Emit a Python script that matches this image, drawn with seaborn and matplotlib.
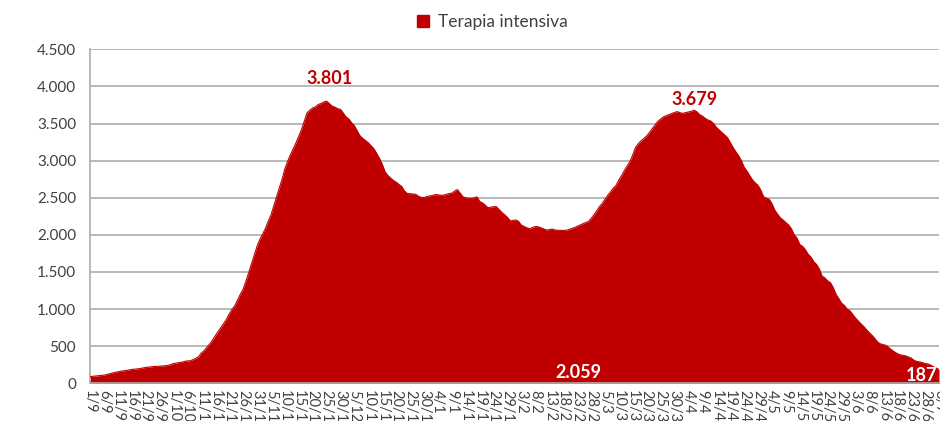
import numpy as np
import pandas as pd
import matplotlib
matplotlib.use("Agg")
import matplotlib.pyplot as plt
from matplotlib.patches import Patch
import seaborn as sns

start_date = "2020-09-01"
icu_values = [
    90, 94, 97, 101, 105, 110, 118, 128, 138, 147,
    155, 162, 168, 172, 179, 187, 190, 194, 199, 207,
    214, 218, 222, 226, 228, 230, 233, 236, 240, 252,
    266, 272, 279, 285, 295, 302, 303, 319, 337, 358,
    409, 440, 486, 529, 580, 640, 697, 750, 804, 862,
    934, 995, 1045, 1120, 1200, 1267, 1375, 1490, 1610, 1730,
    1845, 1939, 2010, 2085, 2180, 2267, 2390, 2510, 2630, 2750,
    2890, 2990, 3080, 3160, 3240, 3330, 3420, 3535, 3645, 3680,
    3711, 3725, 3756, 3770, 3790, 3801, 3768, 3735, 3720, 3700,
    3690, 3640, 3590, 3560, 3510, 3470, 3400, 3335, 3300, 3270,
    3240, 3200, 3160, 3095, 3030, 2950, 2850, 2800, 2765, 2734,
    2710, 2680, 2650, 2590, 2556, 2555, 2550, 2547, 2520, 2505,
    2503, 2515, 2525, 2530, 2542, 2540, 2533, 2535, 2545, 2556,
    2562, 2590, 2610, 2560, 2512, 2500, 2495, 2490, 2500, 2512,
    2450, 2431, 2400, 2365, 2372, 2380, 2379, 2340, 2300, 2270,
    2235, 2188, 2195, 2200, 2180, 2130, 2112, 2095, 2081, 2100,
    2112, 2110, 2095, 2081, 2065, 2070, 2078, 2066, 2062, 2060,
    2059, 2062, 2070, 2085, 2098, 2115, 2133, 2150, 2165, 2178,
    2220, 2267, 2320, 2380, 2422, 2480, 2533, 2580, 2630, 2667,
    2740, 2800, 2870, 2930, 2990, 3080, 3179, 3230, 3267, 3300,
    3334, 3380, 3432, 3480, 3530, 3560, 3590, 3605, 3620, 3636,
    3650, 3660, 3645, 3636, 3648, 3655, 3665, 3679, 3660, 3620,
    3600, 3570, 3547, 3534, 3500, 3450, 3414, 3380, 3345, 3311,
    3245, 3179, 3120, 3068, 3000, 2912, 2860, 2800, 2740, 2700,
    2667, 2600, 2512, 2495, 2481, 2420, 2334, 2280, 2230, 2200,
    2165, 2133, 2080, 2000, 1956, 1870, 1845, 1800, 1740, 1700,
    1640, 1601, 1540, 1445, 1420, 1380, 1356, 1290, 1200, 1140,
    1080, 1050, 1000, 978, 930, 880, 840, 800, 764, 720,
    680, 645, 600, 555, 530, 520, 511, 480, 450, 423,
    400, 385, 378, 370, 355, 340, 310, 295, 289, 280,
    266, 262, 245, 223, 205, 187,
]
series_name = "Terapia intensiva"
y_ticks = [0, 500, 1000, 1500, 2000, 2500, 3000, 3500, 4000, 4500]
y_tick_labels = ["0", "500", "1.000", "1.500", "2.000", "2.500",
                 "3.000", "3.500", "4.000", "4.500"]
label_step = 5

dates = pd.date_range(start_date, periods=len(icu_values), freq="D")
df = pd.DataFrame({"idx": np.arange(len(icu_values)), "value": icu_values})
date_labels = [f"{d.day}/{d.month}" for d in dates]

RED = "#c00000"
GRID = "#adadad"
TXT = "#404040"

sns.set_theme(style="white")
plt.rcParams["font.family"] = ["Lato", "DejaVu Sans"]

fig = plt.figure(figsize=(9.4, 4.21), dpi=100)
ax = fig.add_axes([90 / 940, 1 - 383.3 / 421, 849 / 940, 334 / 421])

ax.fill_between(df["idx"], 0, df["value"], color=RED, linewidth=0, zorder=2)
sns.lineplot(data=df, x="idx", y="value", ax=ax, color=RED, linewidth=0.8, zorder=3)

ax.set_xlim(0, len(icu_values) - 1)
ax.set_ylim(0, 4500)
ax.set_yticks(y_ticks)
ax.set_yticklabels(y_tick_labels, fontsize=11, color=TXT)
ax.yaxis.grid(True, color=GRID, linewidth=1.2, zorder=0)
ax.set_axisbelow(True)

tick_pos = list(range(0, len(icu_values), label_step))
ax.set_xticks(tick_pos)
ax.set_xticklabels([date_labels[i] for i in tick_pos], rotation=270,
                   fontsize=10.5, color=TXT, va="top", ha="center")
ax.tick_params(axis="x", direction="out", length=4, width=0.8, color=GRID, pad=1)
ax.tick_params(axis="y", length=0, pad=10)

for s in ["top", "right"]:
    ax.spines[s].set_visible(False)
ax.spines["left"].set_color(GRID)
ax.spines["left"].set_linewidth(1.2)
ax.spines["bottom"].set_color(GRID)
ax.spines["bottom"].set_linewidth(1.2)
ax.set_xlabel("")
ax.set_ylabel("")

vals = np.array(icu_values)
i_peak1 = int(np.argmax(vals[:150]))
i_min = 150 + int(np.argmin(vals[150:200]))
i_peak2 = 200 + int(np.argmax(vals[200:250]))
i_last = len(vals) - 1

def fmt(v):
    return f"{v:,}".replace(",", ".")

ax.annotate(fmt(vals[i_peak1]), (i_peak1, vals[i_peak1]), xytext=(2, 10),
            textcoords="offset points", ha="center", va="bottom",
            color=RED, fontsize=13, fontweight="bold", zorder=5)
ax.annotate(fmt(vals[i_peak2]), (i_peak2, vals[i_peak2]), xytext=(0, 1.5),
            textcoords="offset points", ha="center", va="bottom",
            color=RED, fontsize=13, fontweight="bold", zorder=5)
ax.annotate(fmt(vals[i_min]), (i_min, 0), xytext=(11, 1.5),
            textcoords="offset points", ha="center", va="bottom",
            color="white", fontsize=13, fontweight="bold", zorder=5)
ax.annotate(fmt(vals[i_last]), (i_last, 0), xytext=(-1, -0.5),
            textcoords="offset points", ha="right", va="bottom",
            color="white", fontsize=13, fontweight="bold", zorder=5)

fig.legend(handles=[Patch(facecolor=RED, edgecolor=RED)], labels=[series_name],
           loc="center", bbox_to_anchor=(492 / 940, 1 - 22 / 421), frameon=False,
           handlelength=0.7, handleheight=0.7, handletextpad=0.5,
           prop={"size": 12.5}, labelcolor=TXT)

fig.savefig("out.png", dpi=100)
